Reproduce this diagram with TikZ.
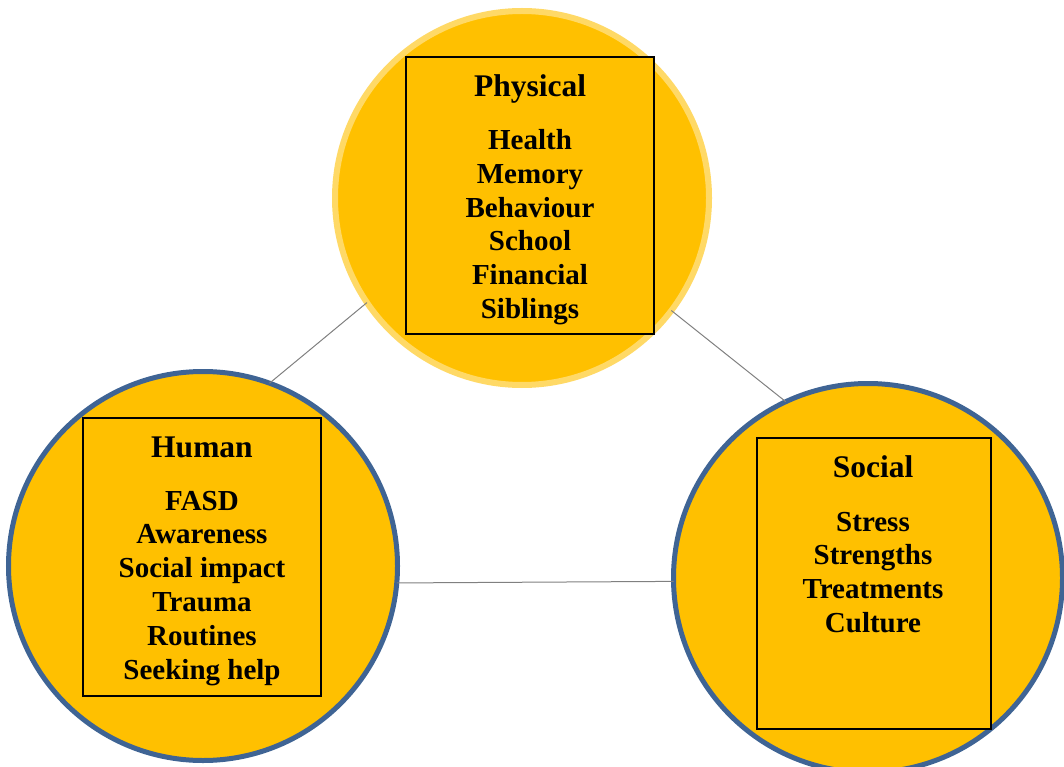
\documentclass[tikz,border=0pt]{standalone}
\usepackage{fontspec}
\setmainfont{Liberation Serif}
\definecolor{discfill}{HTML}{FFC000}
\definecolor{paleedge}{HTML}{FFD966}
\definecolor{blueedge}{HTML}{3F6494}
\definecolor{linkgray}{HTML}{808080}
\begin{document}
\begin{tikzpicture}[x=1pt,y=-1pt,
  disc/.style={circle, fill=discfill, inner sep=0pt, outer sep=0pt},
  listbox/.style={draw=black, line width=2pt, fill=discfill, inner sep=0pt, outer sep=0pt},
  heading/.style={anchor=base, inner sep=0pt, font=\fontsize{31.5}{36}\selectfont\bfseries},
  entry/.style={anchor=base, inner sep=0pt, font=\fontsize{29}{34}\selectfont\bfseries},
  link/.style={draw=linkgray, line width=1pt}]
\clip (0,0) rectangle (1064,767);

% the three discs
\node[disc, draw=paleedge, line width=6pt, minimum size=374pt] (physical) at (522,198) {};
\node[disc, draw=blueedge, line width=5pt, minimum size=389pt] (human) at (203,566) {};
\node[disc, draw=blueedge, line width=5pt, minimum size=389pt] (social) at (868,578) {};

% connectors between the discs
\draw[link] (physical.214.8) -- (human.70);
\draw[link] (physical.323.6) -- (social.115);
\draw[link] (human.-5.6) -- (social.181.5);

% framed lists inside the discs
\node[listbox, minimum width=248pt, minimum height=277pt] (physbox) at (530,195.5) {};
\node[listbox, minimum width=238pt, minimum height=278pt] (humanbox) at (202,557) {};
\node[listbox, minimum width=234pt, minimum height=291pt] (socialbox) at (874,583.5) {};

% Physical
\node[heading] (physhead) at (530,96.7) {Physical};
\foreach \t [count=\i from 0] in {Health,Memory,Behaviour,School,Financial,Siblings}
  \node[entry] (phys\i) at (530,149.5+33.8*\i) {\t};

% Human
\node[heading] (humanhead) at (202,457.7) {Human};
\foreach \t [count=\i from 0] in {FASD,Awareness,Social impact,Trauma,Routines,Seeking help}
  \node[entry] (human\i) at (202,510+33.8*\i) {\t};

% Social
\node[heading] (socialhead) at (873,477.3) {Social};
\foreach \t [count=\i from 0] in {Stress,Strengths,Treatments,Culture}
  \node[entry] (social\i) at (873,531+33.8*\i) {\t};
\end{tikzpicture}
\end{document}
